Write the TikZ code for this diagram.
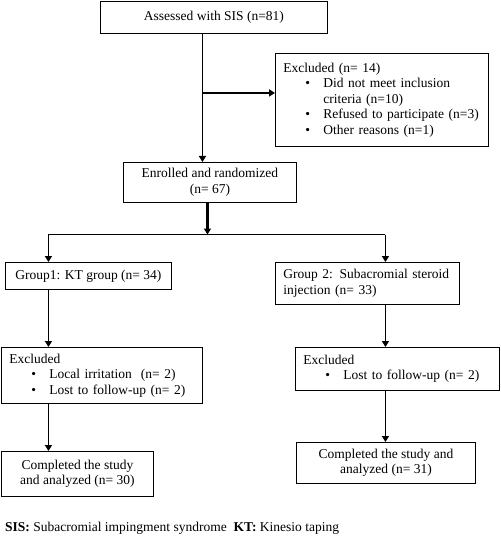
\documentclass[tikz,border=0pt]{standalone}
\usepackage{fontspec}
\setmainfont{Liberation Serif}
\usepackage{tikz}
\usetikzlibrary{positioning, arrows.meta}

\newcommand{\bitem}[1]{\hspace*{22pt}\makebox[18pt][l]{\textbullet}#1}

\begin{document}
\begin{tikzpicture}[
            x=1pt, y=-1pt,
            every node/.style={font=\fontsize{13.5}{15.5}\selectfont},
            box/.style={draw, rectangle, line width=0.9pt, anchor=north west, inner xsep=8pt, inner ysep=0pt},
            arr/.style={line width=1.8pt, -{Triangle[length=6pt, width=7pt]}}
        ]
            \useasboundingbox (0,0) rectangle (500,537);

            % Блоки схемы
            \node[box, minimum width=227pt, minimum height=32pt, align=center] (assessed) at (100,1) {Assessed with SIS (n=81)};
            \node[box, minimum width=213pt, minimum height=93pt, text width=197pt, align=left] (exclTop) at (275,53)
                {Excluded (n= 14)\\ \bitem{Did not meet inclusion}\\ \hspace*{40pt}criteria (n=10)\\ \bitem{Refused to participate (n=3)}\\ \bitem{Other reasons (n=1)}};
            \node[box, minimum width=173pt, minimum height=40pt, align=center] (enrolled) at (123,162) {Enrolled and randomized\\ (n= 67)};
            \node[box, minimum width=166pt, minimum height=27pt, align=center] (group1) at (5,262) {Group1: KT group (n= 34)};
            \node[box, minimum width=184pt, minimum height=42pt, text width=168pt, align=left] (group2) at (275,262) {Group 2: Subacromial steroid\\ injection (n= 33)};
            \node[box, minimum width=201pt, minimum height=56pt, text width=185pt, align=left] (exclL) at (1,347)
                {Excluded\\ \bitem{Local irritation\ \ (n= 2)}\\ \bitem{Lost to follow-up (n= 2)}};
            \node[box, minimum width=204pt, minimum height=43pt, text width=188pt, align=left] (exclR) at (295,347)
                {Excluded\\ \bitem{Lost to follow-up (n= 2)}};
            \node[box, minimum width=152pt, minimum height=45pt, inner xsep=2pt, align=center] (compL) at (1,451) {Completed the study\\ and analyzed (n= 30)};
            \node[box, minimum width=179pt, minimum height=41pt, align=center] (compR) at (296,442) {Completed the study and\\ analyzed (n= 31)};
            \node[anchor=base west, inner sep=0pt] (note) at (5,531) {\textbf{SIS:} Subacromial impingment syndrome\ \ \textbf{KT:} Kinesio taping};

            % Точки ветвления
            \coordinate (colTop) at ([xshift=-11.5pt]assessed.south);
            \coordinate (colL) at ([xshift=-40pt]group1.north);
            \coordinate (colR) at ([xshift=18pt]group2.north);
            \coordinate (fork) at ([yshift=27.5pt]colL);

            % Стрелки
            \draw[arr] (colTop) -- (colTop |- enrolled.north);
            \draw[arr, line width=2.2pt] (colTop |- exclTop.west) ++(0,-7) -- ([yshift=7pt]exclTop.west);
            \draw[arr, line width=2.6pt] ([xshift=-2.5pt]enrolled.south) -- ([xshift=-2.5pt]enrolled.south |- fork);
            \draw[line width=1.3pt] (fork) -- (fork -| colR);
            \draw[arr] (fork) -- (colL);
            \draw[arr] (fork -| colR) -- (colR);
            \draw[arr] (group1.south -| colL) -- (exclL.north -| colL);
            \draw[arr] (exclL.south -| colL) -- (compL.north -| colL);
            \draw[arr] (group2.south -| colR) -- (exclR.north -| colR);
            \draw[arr] (exclR.south -| colR) -- (compR.north -| colR);
        \end{tikzpicture}
\end{document}
